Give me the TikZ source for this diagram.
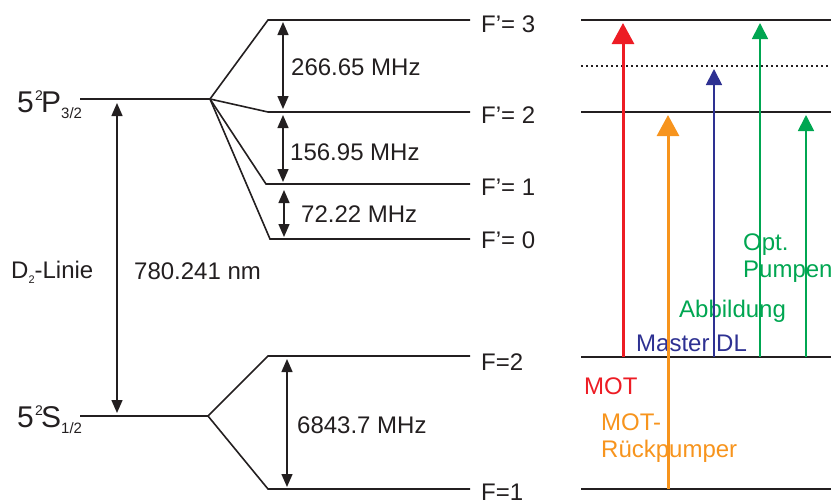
\documentclass[tikz,border=0pt]{standalone}
\usepackage{fontspec}
\setmainfont{Liberation Sans}
\usetikzlibrary{arrows.meta}
\definecolor{cred}{HTML}{ED1C24}
\definecolor{corange}{HTML}{F7941D}
\definecolor{cblue}{HTML}{2E3192}
\definecolor{cgreen}{HTML}{00A651}
\definecolor{ink}{HTML}{231F20}
\begin{document}
\begin{tikzpicture}[x=1pt,y=-1pt,
  lvl/.style={line width=1.6pt,ink},
  gap/.style={line width=1.4pt,ink,{Triangle[length=13pt,width=11pt]}-{Triangle[length=13pt,width=11pt]}},
  lab/.style={inner sep=0pt,anchor=base west,font=\fontsize{24}{28}\selectfont,text=ink},
  biglab/.style={inner sep=0pt,anchor=base west,font=\fontsize{30}{32}\selectfont,text=ink},
  suplab/.style={inner sep=0pt,anchor=base west,font=\fontsize{14}{15}\selectfont,text=ink},
  thicklaser/.style={line width=3pt,-{Triangle[length=21pt,width=22pt]}},
  thinlaser/.style={line width=1.8pt,-{Triangle[length=16pt,width=16pt]}},
]
\useasboundingbox (0,0) rectangle (831,499);
% left level coordinates
\coordinate (P) at (80,99);   \coordinate (Pf) at (210,99);
\coordinate (F3a) at (268,20);  \coordinate (F3b) at (470,20);
\coordinate (F2a) at (268,112); \coordinate (F2b) at (470,112);
\coordinate (F1a) at (266,184); \coordinate (F1b) at (470,184);
\coordinate (F0a) at (270,239); \coordinate (F0b) at (470,239);
\coordinate (S) at (80,416);    \coordinate (Sf) at (208,416);
\coordinate (G2a) at (268,356); \coordinate (G2b) at (470,356);
\coordinate (G1a) at (268,489); \coordinate (G1b) at (470,489);
% right level coordinates
\coordinate (R3a) at (581,20);   \coordinate (R3b) at (831,20);
\coordinate (RDa) at (581,66);   \coordinate (RDb) at (831,66);
\coordinate (R2a) at (581,112);  \coordinate (R2b) at (831,112);
\coordinate (RG2a) at (581,357); \coordinate (RG2b) at (831,357);
\coordinate (RG1a) at (581,489); \coordinate (RG1b) at (831,489);

% levels
\draw[lvl] (P) -- (Pf);
\draw[lvl] (Pf) -- (F3a) -- (F3b);
\draw[lvl] (Pf) -- (F2a) -- (F2b);
\draw[lvl] (Pf) -- (F1a) -- (F1b);
\draw[lvl] (Pf) -- (F0a) -- (F0b);
\draw[lvl] (S) -- (Sf);
\draw[lvl] (Sf) -- (G2a) -- (G2b);
\draw[lvl] (Sf) -- (G1a) -- (G1b);
\draw[lvl] (R3a) -- (R3b);
\draw[lvl,line width=2.4pt,dash pattern=on 2.4pt off 2.6pt] (RDa) -- (RDb);
\draw[lvl] (R2a) -- (R2b);
\draw[lvl] (RG2a) -- (RG2b);
\draw[lvl] (RG1a) -- (RG1b);

% splitting arrows
\coordinate (d2t) at (117,103); \coordinate (d2b) at (117,413);
\coordinate (a1t) at (283,22);  \coordinate (a1b) at (283,109);
\coordinate (a2t) at (283,115); \coordinate (a2b) at (283,182);
\coordinate (a3t) at (284,190); \coordinate (a3b) at (284,237);
\coordinate (a4t) at (287,359); \coordinate (a4b) at (287,487);
\draw[gap] (d2b) -- (d2t);
\draw[gap] (a1b) -- (a1t);
\draw[gap] (a2b) -- (a2t);
\draw[gap] (a3b) -- (a3t);
\draw[gap] (a4b) -- (a4t);

% labels left
\node[biglab] (p5) at (17,112) {5};
\node[suplab] (p2) at (35,100) {2};
\node[biglab] (pP) at (41,112) {P};
\node[suplab,font=\fontsize{15}{16}\selectfont] (p32) at (61,118) {3/2};
\node[biglab] (s5) at (17,427) {5};
\node[suplab] (s2) at (35,415) {2};
\node[biglab] (sS) at (41,427) {S};
\node[suplab,font=\fontsize{15}{16}\selectfont] (s12) at (61,433) {1/2};
\node[lab] (d2) at (11,278) {D\raisebox{-5pt}{\fontsize{11}{11}\selectfont 2}-Linie};
\node[lab] (wl) at (134,279) {780.241 nm};
\node[lab] (m1) at (291,75) {266.65 MHz};
\node[lab] (m2) at (290,160) {156.95 MHz};
\node[lab] (m3) at (301,222) {72.22 MHz};
\node[lab] (m4) at (297,433) {6843.7 MHz};
\node[lab] (lF3) at (481,32) {F’= 3};
\node[lab] (lF2) at (481,123) {F’= 2};
\node[lab] (lF1) at (481,195) {F’= 1};
\node[lab] (lF0) at (481,248) {F’= 0};
\node[lab] (lG2) at (481,370) {F=2};
\node[lab] (lG1) at (481,500) {F=1};

% labels right
\node[lab,text=cred] (tmot) at (584,394) {MOT};
\node[lab,text=corange] (trp1) at (601,430) {MOT-};
\node[lab,text=corange] (trp2) at (601,457) {Rückpumper};
\node[lab,text=cblue] (tmdl) at (636,351) {Master DL};
\node[lab,text=cgreen] (tabb) at (679,317) {Abbildung};
\node[lab,text=cgreen] (topt1) at (743,250) {Opt.};
\node[lab,text=cgreen] (topt2) at (743,277) {Pumpen};

% lasers
\coordinate (redS) at (623,357);  \coordinate (redE) at (623,23);
\coordinate (orS) at (668,489);   \coordinate (orE) at (668,115);
\coordinate (blS) at (714,357);   \coordinate (blE) at (714,69);
\coordinate (g1S) at (760,357);   \coordinate (g1E) at (760,23);
\coordinate (g2S) at (806,357);   \coordinate (g2E) at (806,115);
\draw[thicklaser,cred] (redS) -- (redE);
\draw[thicklaser,corange] (orS) -- (orE);
\draw[thinlaser,cblue] (blS) -- (blE);
\draw[thinlaser,cgreen] (g1S) -- (g1E);
\draw[thinlaser,cgreen] (g2S) -- (g2E);
\end{tikzpicture}
\end{document}
